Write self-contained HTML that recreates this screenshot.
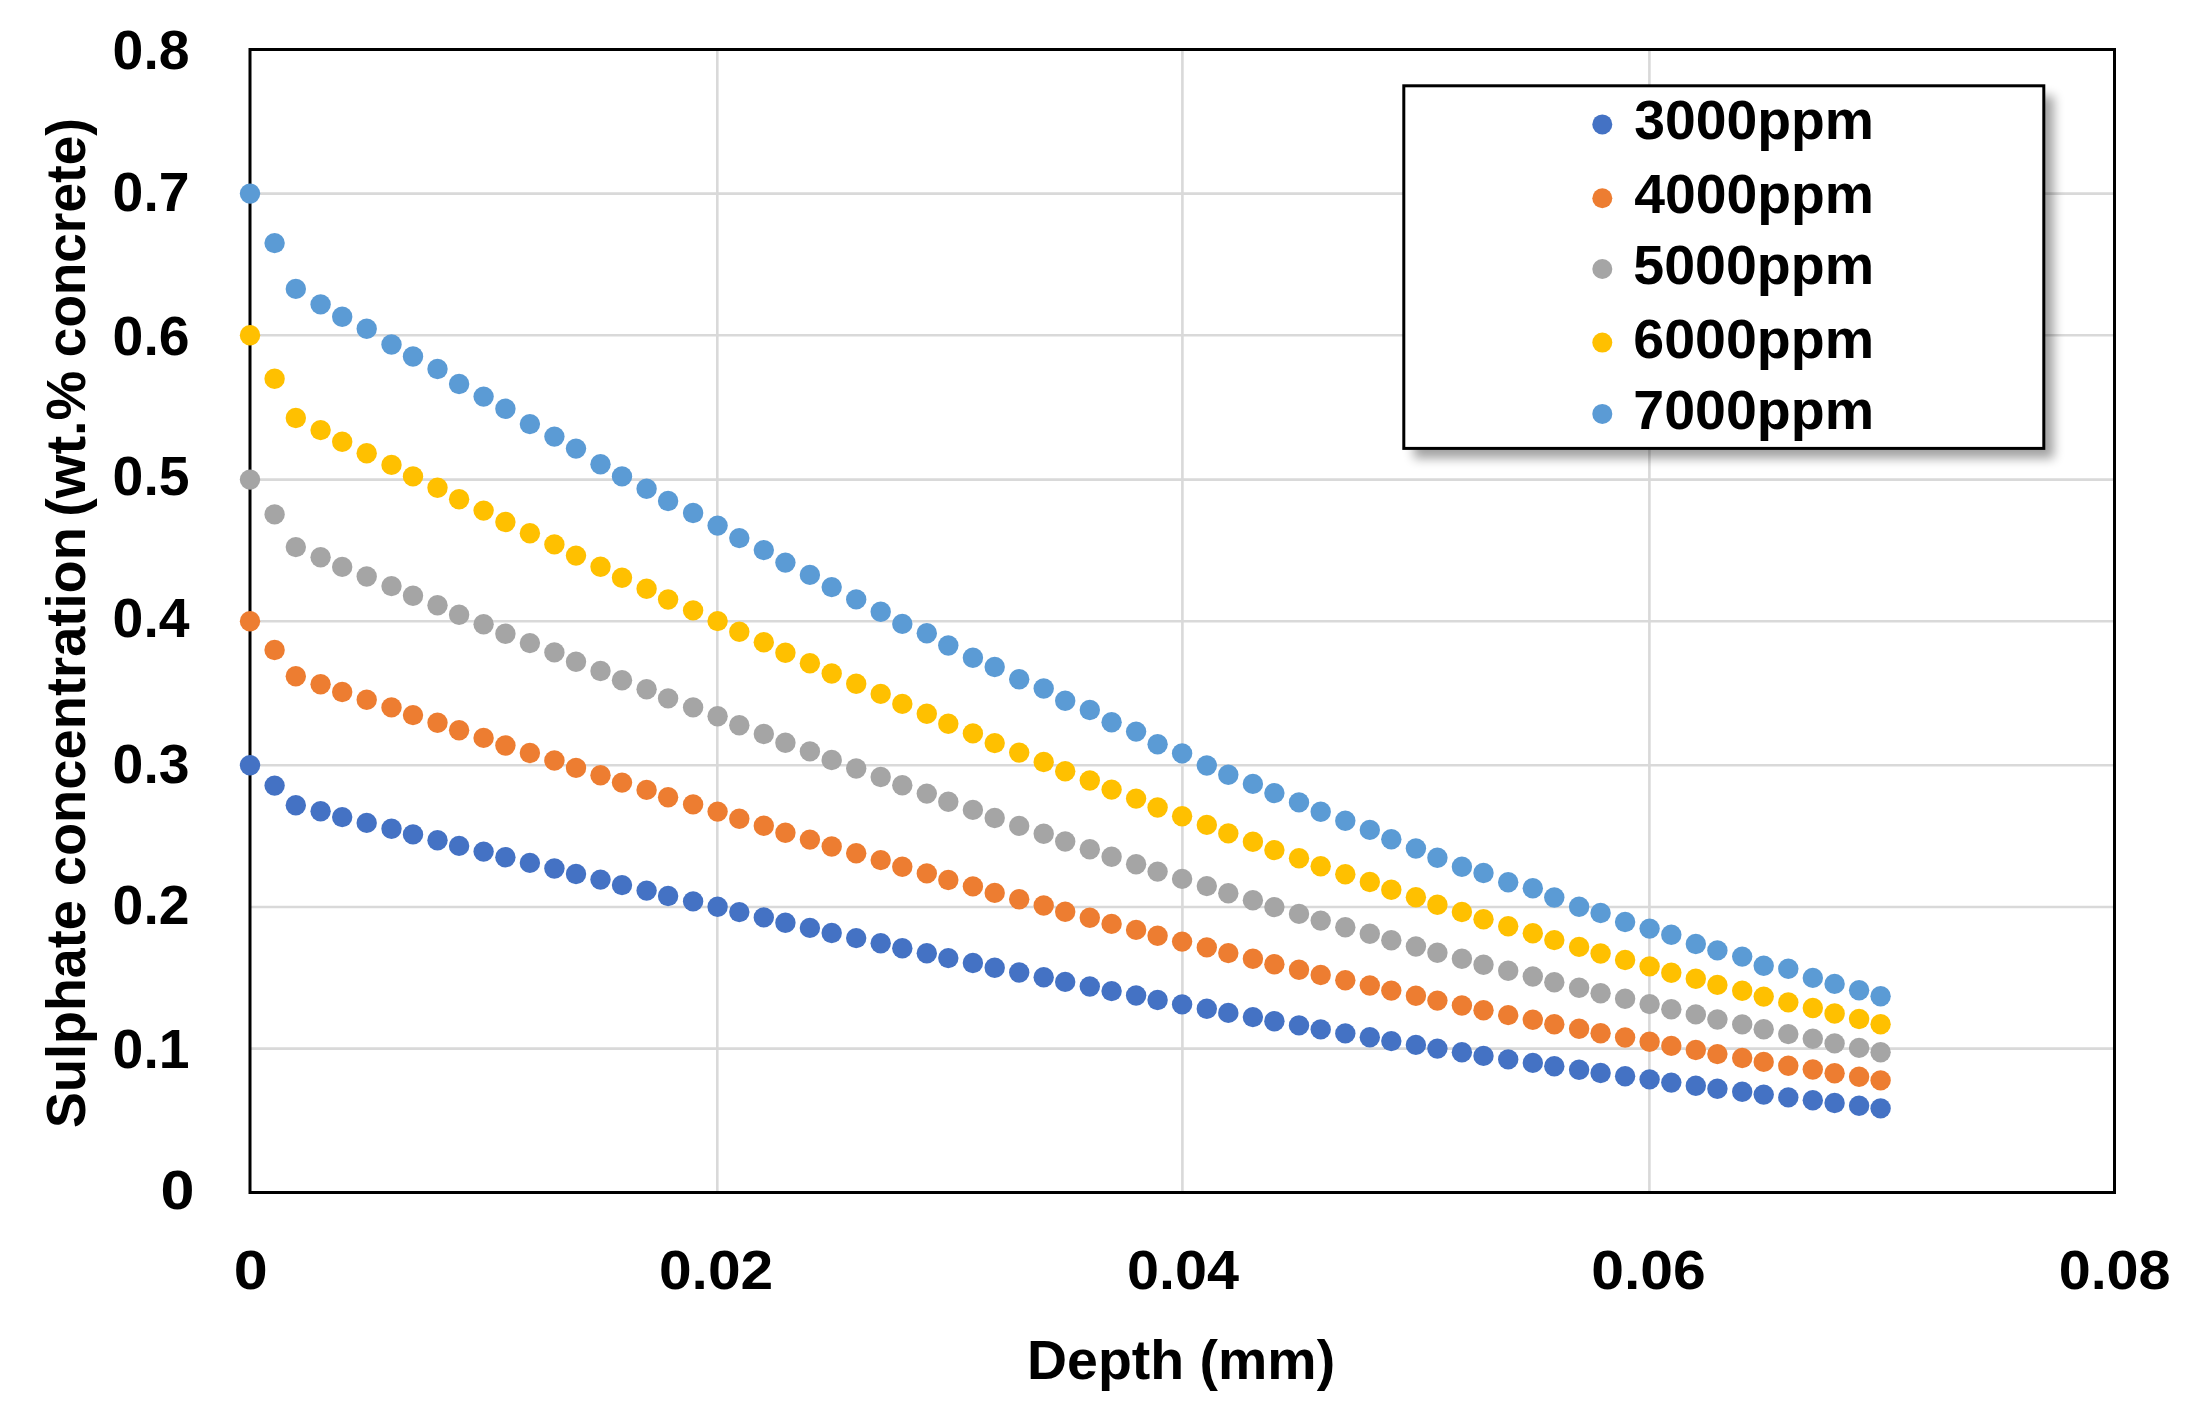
<!DOCTYPE html>
<html lang="en">
<head>
<meta charset="utf-8">
<title>Sulphate concentration vs depth</title>
<style>
html,body{margin:0;padding:0;background:#fff;}
body{width:2197px;height:1408px;overflow:hidden;}
svg{display:block;}
text{font-family:"Liberation Sans", Arial, Helvetica, sans-serif;font-weight:700;font-size:55px;fill:#000;}
</style>
</head>
<body>
<svg width="2197" height="1408" viewBox="0 0 2197 1408">
<defs><filter id="sh" x="-10%" y="-10%" width="125%" height="130%"><feGaussianBlur in="SourceAlpha" stdDeviation="5.5"/><feOffset dx="10" dy="10"/><feComponentTransfer><feFuncA type="linear" slope="0.37"/></feComponentTransfer></filter></defs>
<rect x="0" y="0" width="2197" height="1408" fill="#fff"/>
<g stroke="#D9D9D9" stroke-width="2.6" fill="none">
<line x1="250.0" y1="1048.60" x2="2114.5" y2="1048.60"/>
<line x1="250.0" y1="907.00" x2="2114.5" y2="907.00"/>
<line x1="250.0" y1="765.20" x2="2114.5" y2="765.20"/>
<line x1="250.0" y1="621.20" x2="2114.5" y2="621.20"/>
<line x1="250.0" y1="479.60" x2="2114.5" y2="479.60"/>
<line x1="250.0" y1="335.20" x2="2114.5" y2="335.20"/>
<line x1="250.0" y1="193.60" x2="2114.5" y2="193.60"/>
<line x1="717.30" y1="49.5" x2="717.30" y2="1192.5"/>
<line x1="1182.40" y1="49.5" x2="1182.40" y2="1192.5"/>
<line x1="1649.40" y1="49.5" x2="1649.40" y2="1192.5"/>
</g>
<rect x="250.0" y="49.5" width="1864.5" height="1143.0" fill="none" stroke="#000" stroke-width="3"/>
<g fill="#4472C4">
<circle cx="250.0" cy="765.2" r="10.2"/><circle cx="274.6" cy="785.6" r="10.2"/><circle cx="295.8" cy="805.2" r="10.2"/><circle cx="320.6" cy="811.3" r="10.2"/><circle cx="342.2" cy="817.1" r="10.2"/><circle cx="366.7" cy="822.9" r="10.2"/>
<circle cx="391.5" cy="828.7" r="10.2"/><circle cx="413.0" cy="834.4" r="10.2"/><circle cx="437.5" cy="840.2" r="10.2"/><circle cx="459.1" cy="845.9" r="10.2"/><circle cx="483.6" cy="851.6" r="10.2"/><circle cx="505.4" cy="857.2" r="10.2"/>
<circle cx="529.9" cy="862.9" r="10.2"/><circle cx="554.4" cy="868.5" r="10.2"/><circle cx="576.0" cy="874.0" r="10.2"/><circle cx="600.5" cy="879.6" r="10.2"/><circle cx="622.0" cy="885.1" r="10.2"/><circle cx="646.6" cy="890.6" r="10.2"/>
<circle cx="668.1" cy="896.0" r="10.2"/><circle cx="693.1" cy="901.4" r="10.2"/><circle cx="717.6" cy="906.8" r="10.2"/><circle cx="739.3" cy="912.1" r="10.2"/><circle cx="763.8" cy="917.4" r="10.2"/><circle cx="785.4" cy="922.7" r="10.2"/>
<circle cx="809.9" cy="927.9" r="10.2"/><circle cx="831.7" cy="933.0" r="10.2"/><circle cx="856.2" cy="938.1" r="10.2"/><circle cx="880.7" cy="943.2" r="10.2"/><circle cx="902.3" cy="948.2" r="10.2"/><circle cx="926.8" cy="953.2" r="10.2"/>
<circle cx="948.3" cy="958.1" r="10.2"/><circle cx="972.9" cy="963.0" r="10.2"/><circle cx="994.7" cy="967.8" r="10.2"/><circle cx="1019.2" cy="972.5" r="10.2"/><circle cx="1043.7" cy="977.3" r="10.2"/><circle cx="1065.2" cy="981.9" r="10.2"/>
<circle cx="1089.8" cy="986.5" r="10.2"/><circle cx="1111.6" cy="991.1" r="10.2"/><circle cx="1136.1" cy="995.5" r="10.2"/><circle cx="1157.6" cy="1000.0" r="10.2"/><circle cx="1182.1" cy="1004.4" r="10.2"/><circle cx="1206.8" cy="1008.7" r="10.2"/>
<circle cx="1228.3" cy="1012.9" r="10.2"/><circle cx="1252.9" cy="1017.1" r="10.2"/><circle cx="1274.4" cy="1021.3" r="10.2"/><circle cx="1299.0" cy="1025.4" r="10.2"/><circle cx="1320.7" cy="1029.4" r="10.2"/><circle cx="1345.3" cy="1033.4" r="10.2"/>
<circle cx="1369.8" cy="1037.3" r="10.2"/><circle cx="1391.3" cy="1041.1" r="10.2"/><circle cx="1415.9" cy="1044.9" r="10.2"/><circle cx="1437.4" cy="1048.6" r="10.2"/><circle cx="1461.9" cy="1052.3" r="10.2"/><circle cx="1483.5" cy="1055.9" r="10.2"/>
<circle cx="1508.2" cy="1059.4" r="10.2"/><circle cx="1532.8" cy="1062.9" r="10.2"/><circle cx="1554.3" cy="1066.3" r="10.2"/><circle cx="1579.1" cy="1069.7" r="10.2"/><circle cx="1600.6" cy="1073.0" r="10.2"/><circle cx="1625.1" cy="1076.2" r="10.2"/>
<circle cx="1649.6" cy="1079.4" r="10.2"/><circle cx="1671.3" cy="1082.6" r="10.2"/><circle cx="1695.8" cy="1085.7" r="10.2"/><circle cx="1717.4" cy="1088.7" r="10.2"/><circle cx="1742.2" cy="1091.7" r="10.2"/><circle cx="1763.7" cy="1094.6" r="10.2"/>
<circle cx="1788.3" cy="1097.4" r="10.2"/><circle cx="1812.8" cy="1100.3" r="10.2"/><circle cx="1834.6" cy="1103.0" r="10.2"/><circle cx="1859.1" cy="1105.7" r="10.2"/><circle cx="1880.6" cy="1108.4" r="10.2"/>
</g>
<g fill="#ED7D31">
<circle cx="250.0" cy="621.2" r="10.2"/><circle cx="274.6" cy="650.0" r="10.2"/><circle cx="295.8" cy="676.2" r="10.2"/><circle cx="320.6" cy="684.3" r="10.2"/><circle cx="342.2" cy="692.0" r="10.2"/><circle cx="366.7" cy="699.7" r="10.2"/>
<circle cx="391.5" cy="707.4" r="10.2"/><circle cx="413.0" cy="715.1" r="10.2"/><circle cx="437.5" cy="722.7" r="10.2"/><circle cx="459.1" cy="730.3" r="10.2"/><circle cx="483.6" cy="737.9" r="10.2"/><circle cx="505.4" cy="745.5" r="10.2"/>
<circle cx="529.9" cy="753.0" r="10.2"/><circle cx="554.4" cy="760.5" r="10.2"/><circle cx="576.0" cy="767.9" r="10.2"/><circle cx="600.5" cy="775.3" r="10.2"/><circle cx="622.0" cy="782.6" r="10.2"/><circle cx="646.6" cy="789.9" r="10.2"/>
<circle cx="668.1" cy="797.2" r="10.2"/><circle cx="693.1" cy="804.4" r="10.2"/><circle cx="717.6" cy="811.6" r="10.2"/><circle cx="739.3" cy="818.7" r="10.2"/><circle cx="763.8" cy="825.7" r="10.2"/><circle cx="785.4" cy="832.7" r="10.2"/>
<circle cx="809.9" cy="839.6" r="10.2"/><circle cx="831.7" cy="846.5" r="10.2"/><circle cx="856.2" cy="853.3" r="10.2"/><circle cx="880.7" cy="860.1" r="10.2"/><circle cx="902.3" cy="866.8" r="10.2"/><circle cx="926.8" cy="873.4" r="10.2"/>
<circle cx="948.3" cy="880.0" r="10.2"/><circle cx="972.9" cy="886.4" r="10.2"/><circle cx="994.7" cy="892.9" r="10.2"/><circle cx="1019.2" cy="899.2" r="10.2"/><circle cx="1043.7" cy="905.5" r="10.2"/><circle cx="1065.2" cy="911.7" r="10.2"/>
<circle cx="1089.8" cy="917.8" r="10.2"/><circle cx="1111.6" cy="923.9" r="10.2"/><circle cx="1136.1" cy="929.9" r="10.2"/><circle cx="1157.6" cy="935.8" r="10.2"/><circle cx="1182.1" cy="941.6" r="10.2"/><circle cx="1206.8" cy="947.4" r="10.2"/>
<circle cx="1228.3" cy="953.1" r="10.2"/><circle cx="1252.9" cy="958.7" r="10.2"/><circle cx="1274.4" cy="964.2" r="10.2"/><circle cx="1299.0" cy="969.7" r="10.2"/><circle cx="1320.7" cy="975.0" r="10.2"/><circle cx="1345.3" cy="980.3" r="10.2"/>
<circle cx="1369.8" cy="985.5" r="10.2"/><circle cx="1391.3" cy="990.6" r="10.2"/><circle cx="1415.9" cy="995.7" r="10.2"/><circle cx="1437.4" cy="1000.6" r="10.2"/><circle cx="1461.9" cy="1005.5" r="10.2"/><circle cx="1483.5" cy="1010.3" r="10.2"/>
<circle cx="1508.2" cy="1015.1" r="10.2"/><circle cx="1532.8" cy="1019.7" r="10.2"/><circle cx="1554.3" cy="1024.3" r="10.2"/><circle cx="1579.1" cy="1028.8" r="10.2"/><circle cx="1600.6" cy="1033.2" r="10.2"/><circle cx="1625.1" cy="1037.5" r="10.2"/>
<circle cx="1649.6" cy="1041.8" r="10.2"/><circle cx="1671.3" cy="1045.9" r="10.2"/><circle cx="1695.8" cy="1050.0" r="10.2"/><circle cx="1717.4" cy="1054.1" r="10.2"/><circle cx="1742.2" cy="1058.0" r="10.2"/><circle cx="1763.7" cy="1061.9" r="10.2"/>
<circle cx="1788.3" cy="1065.8" r="10.2"/><circle cx="1812.8" cy="1069.5" r="10.2"/><circle cx="1834.6" cy="1073.2" r="10.2"/><circle cx="1859.1" cy="1076.8" r="10.2"/><circle cx="1880.6" cy="1080.4" r="10.2"/>
</g>
<g fill="#A5A5A5">
<circle cx="250.0" cy="479.6" r="10.2"/><circle cx="274.6" cy="514.4" r="10.2"/><circle cx="295.8" cy="547.1" r="10.2"/><circle cx="320.6" cy="557.2" r="10.2"/><circle cx="342.2" cy="566.9" r="10.2"/><circle cx="366.7" cy="576.5" r="10.2"/>
<circle cx="391.5" cy="586.1" r="10.2"/><circle cx="413.0" cy="595.7" r="10.2"/><circle cx="437.5" cy="605.3" r="10.2"/><circle cx="459.1" cy="614.8" r="10.2"/><circle cx="483.6" cy="624.3" r="10.2"/><circle cx="505.4" cy="633.7" r="10.2"/>
<circle cx="529.9" cy="643.1" r="10.2"/><circle cx="554.4" cy="652.4" r="10.2"/><circle cx="576.0" cy="661.7" r="10.2"/><circle cx="600.5" cy="671.0" r="10.2"/><circle cx="622.0" cy="680.2" r="10.2"/><circle cx="646.6" cy="689.3" r="10.2"/>
<circle cx="668.1" cy="698.4" r="10.2"/><circle cx="693.1" cy="707.4" r="10.2"/><circle cx="717.6" cy="716.3" r="10.2"/><circle cx="739.3" cy="725.2" r="10.2"/><circle cx="763.8" cy="734.0" r="10.2"/><circle cx="785.4" cy="742.8" r="10.2"/>
<circle cx="809.9" cy="751.4" r="10.2"/><circle cx="831.7" cy="760.0" r="10.2"/><circle cx="856.2" cy="768.5" r="10.2"/><circle cx="880.7" cy="777.0" r="10.2"/><circle cx="902.3" cy="785.3" r="10.2"/><circle cx="926.8" cy="793.6" r="10.2"/>
<circle cx="948.3" cy="801.8" r="10.2"/><circle cx="972.9" cy="809.9" r="10.2"/><circle cx="994.7" cy="818.0" r="10.2"/><circle cx="1019.2" cy="825.9" r="10.2"/><circle cx="1043.7" cy="833.8" r="10.2"/><circle cx="1065.2" cy="841.5" r="10.2"/>
<circle cx="1089.8" cy="849.2" r="10.2"/><circle cx="1111.6" cy="856.8" r="10.2"/><circle cx="1136.1" cy="864.2" r="10.2"/><circle cx="1157.6" cy="871.6" r="10.2"/><circle cx="1182.1" cy="878.9" r="10.2"/><circle cx="1206.8" cy="886.1" r="10.2"/>
<circle cx="1228.3" cy="893.2" r="10.2"/><circle cx="1252.9" cy="900.2" r="10.2"/><circle cx="1274.4" cy="907.1" r="10.2"/><circle cx="1299.0" cy="913.9" r="10.2"/><circle cx="1320.7" cy="920.6" r="10.2"/><circle cx="1345.3" cy="927.3" r="10.2"/>
<circle cx="1369.8" cy="933.8" r="10.2"/><circle cx="1391.3" cy="940.2" r="10.2"/><circle cx="1415.9" cy="946.5" r="10.2"/><circle cx="1437.4" cy="952.7" r="10.2"/><circle cx="1461.9" cy="958.8" r="10.2"/><circle cx="1483.5" cy="964.8" r="10.2"/>
<circle cx="1508.2" cy="970.7" r="10.2"/><circle cx="1532.8" cy="976.5" r="10.2"/><circle cx="1554.3" cy="982.2" r="10.2"/><circle cx="1579.1" cy="987.8" r="10.2"/><circle cx="1600.6" cy="993.3" r="10.2"/><circle cx="1625.1" cy="998.7" r="10.2"/>
<circle cx="1649.6" cy="1004.1" r="10.2"/><circle cx="1671.3" cy="1009.3" r="10.2"/><circle cx="1695.8" cy="1014.4" r="10.2"/><circle cx="1717.4" cy="1019.5" r="10.2"/><circle cx="1742.2" cy="1024.4" r="10.2"/><circle cx="1763.7" cy="1029.3" r="10.2"/>
<circle cx="1788.3" cy="1034.1" r="10.2"/><circle cx="1812.8" cy="1038.8" r="10.2"/><circle cx="1834.6" cy="1043.4" r="10.2"/><circle cx="1859.1" cy="1047.9" r="10.2"/><circle cx="1880.6" cy="1052.3" r="10.2"/>
</g>
<g fill="#FFC000">
<circle cx="250.0" cy="335.2" r="10.2"/><circle cx="274.6" cy="378.7" r="10.2"/><circle cx="295.8" cy="418.0" r="10.2"/><circle cx="320.6" cy="430.1" r="10.2"/><circle cx="342.2" cy="441.7" r="10.2"/><circle cx="366.7" cy="453.3" r="10.2"/>
<circle cx="391.5" cy="464.9" r="10.2"/><circle cx="413.0" cy="476.4" r="10.2"/><circle cx="437.5" cy="487.8" r="10.2"/><circle cx="459.1" cy="499.3" r="10.2"/><circle cx="483.6" cy="510.6" r="10.2"/><circle cx="505.4" cy="522.0" r="10.2"/>
<circle cx="529.9" cy="533.2" r="10.2"/><circle cx="554.4" cy="544.4" r="10.2"/><circle cx="576.0" cy="555.6" r="10.2"/><circle cx="600.5" cy="566.7" r="10.2"/><circle cx="622.0" cy="577.7" r="10.2"/><circle cx="646.6" cy="588.7" r="10.2"/>
<circle cx="668.1" cy="599.5" r="10.2"/><circle cx="693.1" cy="610.4" r="10.2"/><circle cx="717.6" cy="621.1" r="10.2"/><circle cx="739.3" cy="631.7" r="10.2"/><circle cx="763.8" cy="642.3" r="10.2"/><circle cx="785.4" cy="652.8" r="10.2"/>
<circle cx="809.9" cy="663.2" r="10.2"/><circle cx="831.7" cy="673.5" r="10.2"/><circle cx="856.2" cy="683.7" r="10.2"/><circle cx="880.7" cy="693.9" r="10.2"/><circle cx="902.3" cy="703.9" r="10.2"/><circle cx="926.8" cy="713.8" r="10.2"/>
<circle cx="948.3" cy="723.7" r="10.2"/><circle cx="972.9" cy="733.4" r="10.2"/><circle cx="994.7" cy="743.1" r="10.2"/><circle cx="1019.2" cy="752.6" r="10.2"/><circle cx="1043.7" cy="762.0" r="10.2"/><circle cx="1065.2" cy="771.3" r="10.2"/>
<circle cx="1089.8" cy="780.5" r="10.2"/><circle cx="1111.6" cy="789.6" r="10.2"/><circle cx="1136.1" cy="798.6" r="10.2"/><circle cx="1157.6" cy="807.5" r="10.2"/><circle cx="1182.1" cy="816.2" r="10.2"/><circle cx="1206.8" cy="824.9" r="10.2"/>
<circle cx="1228.3" cy="833.4" r="10.2"/><circle cx="1252.9" cy="841.8" r="10.2"/><circle cx="1274.4" cy="850.1" r="10.2"/><circle cx="1299.0" cy="858.2" r="10.2"/><circle cx="1320.7" cy="866.3" r="10.2"/><circle cx="1345.3" cy="874.2" r="10.2"/>
<circle cx="1369.8" cy="882.0" r="10.2"/><circle cx="1391.3" cy="889.7" r="10.2"/><circle cx="1415.9" cy="897.3" r="10.2"/><circle cx="1437.4" cy="904.7" r="10.2"/><circle cx="1461.9" cy="912.0" r="10.2"/><circle cx="1483.5" cy="919.2" r="10.2"/>
<circle cx="1508.2" cy="926.3" r="10.2"/><circle cx="1532.8" cy="933.3" r="10.2"/><circle cx="1554.3" cy="940.1" r="10.2"/><circle cx="1579.1" cy="946.9" r="10.2"/><circle cx="1600.6" cy="953.5" r="10.2"/><circle cx="1625.1" cy="960.0" r="10.2"/>
<circle cx="1649.6" cy="966.4" r="10.2"/><circle cx="1671.3" cy="972.7" r="10.2"/><circle cx="1695.8" cy="978.8" r="10.2"/><circle cx="1717.4" cy="984.9" r="10.2"/><circle cx="1742.2" cy="990.8" r="10.2"/><circle cx="1763.7" cy="996.6" r="10.2"/>
<circle cx="1788.3" cy="1002.4" r="10.2"/><circle cx="1812.8" cy="1008.0" r="10.2"/><circle cx="1834.6" cy="1013.5" r="10.2"/><circle cx="1859.1" cy="1019.0" r="10.2"/><circle cx="1880.6" cy="1024.3" r="10.2"/>
</g>
<g fill="#5B9BD5">
<circle cx="250.0" cy="193.6" r="10.2"/><circle cx="274.6" cy="243.1" r="10.2"/><circle cx="295.8" cy="288.9" r="10.2"/><circle cx="320.6" cy="304.4" r="10.2"/><circle cx="342.2" cy="316.7" r="10.2"/><circle cx="366.7" cy="328.7" r="10.2"/>
<circle cx="391.5" cy="344.5" r="10.2"/><circle cx="413.0" cy="356.5" r="10.2"/><circle cx="437.5" cy="369.0" r="10.2"/><circle cx="459.1" cy="384.0" r="10.2"/><circle cx="483.6" cy="396.6" r="10.2"/><circle cx="505.4" cy="408.8" r="10.2"/>
<circle cx="529.9" cy="424.1" r="10.2"/><circle cx="554.4" cy="436.6" r="10.2"/><circle cx="576.0" cy="448.6" r="10.2"/><circle cx="600.5" cy="464.2" r="10.2"/><circle cx="622.0" cy="476.4" r="10.2"/><circle cx="646.6" cy="488.7" r="10.2"/>
<circle cx="668.1" cy="501.0" r="10.2"/><circle cx="693.1" cy="513.0" r="10.2"/><circle cx="717.6" cy="525.6" r="10.2"/><circle cx="739.3" cy="538.1" r="10.2"/><circle cx="763.8" cy="550.1" r="10.2"/><circle cx="785.4" cy="562.6" r="10.2"/>
<circle cx="809.9" cy="574.9" r="10.2"/><circle cx="831.7" cy="587.1" r="10.2"/><circle cx="856.2" cy="599.4" r="10.2"/><circle cx="880.7" cy="611.7" r="10.2"/><circle cx="902.3" cy="623.9" r="10.2"/><circle cx="926.8" cy="633.2" r="10.2"/>
<circle cx="948.3" cy="645.5" r="10.2"/><circle cx="972.9" cy="657.7" r="10.2"/><circle cx="994.7" cy="667.0" r="10.2"/><circle cx="1019.2" cy="679.2" r="10.2"/><circle cx="1043.7" cy="688.5" r="10.2"/><circle cx="1065.2" cy="700.8" r="10.2"/>
<circle cx="1089.8" cy="710.0" r="10.2"/><circle cx="1111.6" cy="722.3" r="10.2"/><circle cx="1136.1" cy="731.6" r="10.2"/><circle cx="1157.6" cy="744.2" r="10.2"/><circle cx="1182.1" cy="753.4" r="10.2"/><circle cx="1206.8" cy="765.5" r="10.2"/>
<circle cx="1228.3" cy="774.8" r="10.2"/><circle cx="1252.9" cy="783.9" r="10.2"/><circle cx="1274.4" cy="793.1" r="10.2"/><circle cx="1299.0" cy="802.4" r="10.2"/><circle cx="1320.7" cy="811.7" r="10.2"/><circle cx="1345.3" cy="820.7" r="10.2"/>
<circle cx="1369.8" cy="829.9" r="10.2"/><circle cx="1391.3" cy="839.2" r="10.2"/><circle cx="1415.9" cy="848.5" r="10.2"/><circle cx="1437.4" cy="857.7" r="10.2"/><circle cx="1461.9" cy="866.7" r="10.2"/><circle cx="1483.5" cy="873.0" r="10.2"/>
<circle cx="1508.2" cy="882.2" r="10.2"/><circle cx="1532.8" cy="888.3" r="10.2"/><circle cx="1554.3" cy="897.5" r="10.2"/><circle cx="1579.1" cy="906.8" r="10.2"/><circle cx="1600.6" cy="913.0" r="10.2"/><circle cx="1625.1" cy="922.0" r="10.2"/>
<circle cx="1649.6" cy="928.6" r="10.2"/><circle cx="1671.3" cy="934.7" r="10.2"/><circle cx="1695.8" cy="944.0" r="10.2"/><circle cx="1717.4" cy="950.4" r="10.2"/><circle cx="1742.2" cy="956.6" r="10.2"/><circle cx="1763.7" cy="965.7" r="10.2"/>
<circle cx="1788.3" cy="968.7" r="10.2"/><circle cx="1812.8" cy="977.9" r="10.2"/><circle cx="1834.6" cy="983.9" r="10.2"/><circle cx="1859.1" cy="990.2" r="10.2"/><circle cx="1880.6" cy="996.2" r="10.2"/>
</g>
<rect x="1403.8" y="85.8" width="640" height="362.6" fill="#000" filter="url(#sh)"/>
<rect x="1403.8" y="85.8" width="640" height="362.6" fill="#fff" stroke="#000" stroke-width="3"/>
<circle cx="1602.3" cy="124.4" r="10" fill="#4472C4"/><text transform="translate(1634.29 139.30) scale(1.0056 1)">3000ppm</text>
<circle cx="1602.3" cy="198.3" r="10" fill="#ED7D31"/><text transform="translate(1634.29 212.80) scale(1.0056 1)">4000ppm</text>
<circle cx="1602.3" cy="269.0" r="10" fill="#A5A5A5"/><text transform="translate(1633.28 284.00) scale(1.0099 1)">5000ppm</text>
<circle cx="1602.3" cy="342.6" r="10" fill="#FFC000"/><text transform="translate(1633.28 357.50) scale(1.0099 1)">6000ppm</text>
<circle cx="1602.3" cy="413.9" r="10" fill="#5B9BD5"/><text transform="translate(1633.28 428.90) scale(1.0099 1)">7000ppm</text>
<text transform="translate(160.58 1209.30) scale(1.1093 1)">0</text>
<text transform="translate(112.59 1068.10) scale(1.0068 1)">0.1</text>
<text transform="translate(112.59 924.30) scale(1.0068 1)">0.2</text>
<text transform="translate(112.59 782.50) scale(1.0068 1)">0.3</text>
<text transform="translate(112.59 637.40) scale(1.0068 1)">0.4</text>
<text transform="translate(112.59 494.90) scale(1.0068 1)">0.5</text>
<text transform="translate(112.59 354.50) scale(1.0068 1)">0.6</text>
<text transform="translate(112.59 210.50) scale(1.0068 1)">0.7</text>
<text transform="translate(112.59 68.60) scale(1.0068 1)">0.8</text>
<text transform="translate(233.78 1289.20) scale(1.1111 1)">0</text>
<text transform="translate(658.96 1289.20) scale(1.0680 1)">0.02</text>
<text transform="translate(1127.01 1289.20) scale(1.0467 1)">0.04</text>
<text transform="translate(1591.16 1289.20) scale(1.0709 1)">0.06</text>
<text transform="translate(2058.66 1289.20) scale(1.0457 1)">0.08</text>
<text transform="translate(1027.07 1378.70) scale(1.0087 1)">Depth (mm)</text>
<text transform="translate(85.2 1127) rotate(-90)"><tspan x="-0.98" textLength="227.81" lengthAdjust="spacingAndGlyphs">Sulphate</tspan> <tspan x="240.72" textLength="359.19" lengthAdjust="spacingAndGlyphs">concentration</tspan> <tspan x="610.16" textLength="146.28" lengthAdjust="spacingAndGlyphs">(wt.%</tspan> <tspan x="769.87" textLength="239.14" lengthAdjust="spacingAndGlyphs">concrete)</tspan></text>
</svg>
</body>
</html>
